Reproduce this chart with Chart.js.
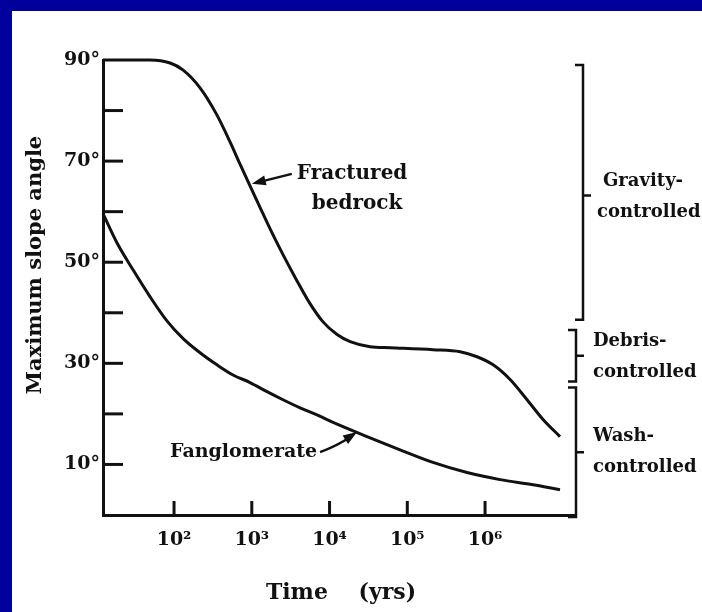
<!DOCTYPE html>
<html>
<head>
<meta charset="utf-8">
<script src="https://cdn.jsdelivr.net/npm/chart.js@4"></script>
<style>
  html, body { margin: 0; padding: 0; }
  body { width: 702px; height: 612px; background: #00009c; position: relative; overflow: hidden; }
  #sheet { position: absolute; left: 12px; top: 11px; right: 0; bottom: 0; background: #ffffff; }
  #wrap { position: absolute; left: 0; top: 0; width: 702px; height: 612px; }
</style>
</head>
<body>
<div id="sheet"></div>
<div id="wrap"><canvas id="c" width="702" height="612"></canvas></div>
<script>
// Time axis (years, log scale) and slope-angle axis (degrees)
const timeTicks = [1e2, 1e3, 1e4, 1e5, 1e6];
const angleLabels = [10, 30, 50, 70, 90];

// Fractured bedrock: maximum slope angle vs. time
const timeBedrock  = [12.2, 49, 89, 131, 216, 357, 525, 706, 949, 1280, 1720, 2520, 3820, 5610, 8240, 12500, 18400, 33200, 60000, 214000, 477000, 788000, 1270000, 2100000, 3470000, 5570000, 9200000];
const angleBedrock = [90, 90, 89.4, 88.0, 84.5, 79.1, 73.8, 69.4, 65.1, 60.8, 56.6, 51.5, 46.3, 41.8, 38.2, 35.7, 34.3, 33.3, 33.1, 32.7, 32.3, 31.3, 29.7, 26.8, 22.8, 18.9, 15.5];

// Fanglomerate: maximum slope angle vs. time
const timeFang  = [12.2, 18.5, 29.7, 49, 81, 131, 216, 357, 574, 949, 1570, 2520, 4180, 6900, 11100, 30300, 80700, 214000, 586000, 1560000, 4140000, 9200000];
const angleFang = [59.6, 53.8, 48.5, 43.2, 38.4, 34.9, 32.1, 29.7, 27.7, 26.2, 24.4, 22.8, 21.2, 19.8, 18.3, 15.5, 12.9, 10.4, 8.4, 7.0, 6.0, 5.0];

// Slope regimes shown as brackets on the right (angle ranges, degrees)
const regimeNames  = [['Gravity-', 'controlled'], ['Debris-', 'controlled'], ['Wash-', 'controlled']];
const regimeTop    = [89, 36.6, 25.2];
const regimeBottom = [39, 26.8, 0];

// Curve call-outs: label lines and the point on the curve each arrow touches
const calloutText  = [['Fractured', 'bedrock'], ['Fanglomerate']];
const calloutTime  = [1000, 22600];
const calloutAngle = [65.5, 16.4];

const X_MIN = 12.2;
const X_MAX = 1.435e7;
const INK = '#111111';
const FONT = '"DejaVu Serif", "Liberation Serif", serif';

const SUP = { '0': '\u2070', '1': '\u00b9', '2': '\u00b2', '3': '\u00b3', '4': '\u2074', '5': '\u2075', '6': '\u2076', '7': '\u2077', '8': '\u2078', '9': '\u2079' };
function powerLabel(v) {
  const e = Math.round(Math.log10(v));
  return '10' + String(e).split('').map(d => SUP[d]).join('');
}

function pairs(xs, ys) { return xs.map((x, i) => ({ x: x, y: ys[i] })); }

function setFont(ctx, size) { ctx.font = 'bold ' + size + 'px ' + FONT; }

function arrowHead(ctx, fx, fy, tx, ty, len, half) {
  const a = Math.atan2(ty - fy, tx - fx);
  ctx.beginPath();
  ctx.moveTo(tx, ty);
  ctx.lineTo(tx - len * Math.cos(a) + half * Math.sin(a), ty - len * Math.sin(a) - half * Math.cos(a));
  ctx.lineTo(tx - len * Math.cos(a) - half * Math.sin(a), ty - len * Math.sin(a) + half * Math.cos(a));
  ctx.closePath();
  ctx.fill();
}

const decor = {
  id: 'decor',
  afterDraw(chart) {
    const ctx = chart.ctx;
    const xs = chart.scales.x, ys = chart.scales.y;
    const area = chart.chartArea;
    ctx.save();
    ctx.strokeStyle = INK;
    ctx.fillStyle = INK;
    ctx.lineCap = 'butt';

    // inward tick marks on both axes
    ctx.lineWidth = 3;
    ys.ticks.forEach(t => {
      if (t.value <= ys.min || t.value >= ys.max) return;
      const y = ys.getPixelForValue(t.value);
      ctx.beginPath(); ctx.moveTo(area.left, y); ctx.lineTo(area.left + 20, y); ctx.stroke();
    });
    xs.ticks.forEach(t => {
      const x = xs.getPixelForValue(t.value);
      ctx.beginPath(); ctx.moveTo(x, area.bottom); ctx.lineTo(x, area.bottom - 14); ctx.stroke();
    });

    // regime brackets
    ctx.lineWidth = 2.5;
    setFont(ctx, 18);
    ctx.textBaseline = 'middle';
    ctx.textAlign = 'left';
    regimeNames.forEach((lines, i) => {
      const bx = area.right + (i === 0 ? 8 : 1);
      const yt = ys.getPixelForValue(regimeTop[i]);
      const yb = ys.getPixelForValue(regimeBottom[i]) + 2;
      const ym = (yt + yb) / 2 + (i === 0 ? 3 : 0);
      ctx.beginPath();
      ctx.moveTo(bx - 8, yt); ctx.lineTo(bx, yt); ctx.lineTo(bx, yb); ctx.lineTo(bx - 8, yb);
      ctx.moveTo(bx, ym); ctx.lineTo(bx + 8, ym);
      ctx.stroke();
      const tx = bx + (i === 0 ? 20 : 17);
      const dy = i === 2 ? -2 : 0;
      ctx.fillText(lines[0], tx, ym - 14 + dy);
      ctx.fillText(lines[1], tx - (i === 0 ? 6 : 0), ym + 17 + dy);
    });

    // call-outs with arrows
    ctx.lineWidth = 2.5;
    // Fractured bedrock
    {
      setFont(ctx, 20);
      const hx = xs.getPixelForValue(calloutTime[0]), hy = ys.getPixelForValue(calloutAngle[0]);
      const sx = hx + 40, sy = hy - 10;
      ctx.beginPath(); ctx.moveTo(sx, sy); ctx.lineTo(hx + 8, hy - 2); ctx.stroke();
      arrowHead(ctx, sx, sy, hx, hy, 14, 5);
      ctx.textAlign = 'left';
      ctx.fillText(calloutText[0][0], hx + 45, hy - 10);
      ctx.fillText(calloutText[0][1], hx + 60, hy + 20);
    }
    // Fanglomerate
    {
      setFont(ctx, 19);
      const hx = xs.getPixelForValue(calloutTime[1]), hy = ys.getPixelForValue(calloutAngle[1]);
      const sx = hx - 37, sy = hy + 20;
      ctx.beginPath(); ctx.moveTo(sx, sy); ctx.quadraticCurveTo(hx - 20, hy + 14, hx - 7, hy + 5); ctx.stroke();
      arrowHead(ctx, hx - 20, hy + 13, hx, hy, 14, 5);
      ctx.textAlign = 'right';
      ctx.fillText(calloutText[1][0], sx - 3, sy);
    }

    // axis titles
    ctx.textAlign = 'center';
    ctx.textBaseline = 'middle';
    setFont(ctx, 21);
    ctx.save();
    ctx.translate(36, 265);
    ctx.rotate(-Math.PI / 2);
    ctx.fillText('Maximum slope angle', 0, 0);
    ctx.restore();
    setFont(ctx, 22);
    ctx.fillText('Time    (yrs)', 341, 593);

    ctx.restore();
  }
};

new Chart(document.getElementById('c').getContext('2d'), {
  type: 'line',
  data: {
    datasets: [
      { label: 'Fractured bedrock', data: pairs(timeBedrock, angleBedrock) },
      { label: 'Fanglomerate', data: pairs(timeFang, angleFang) }
    ]
  },
  options: {
    responsive: false,
    animation: false,
    devicePixelRatio: 1,
    events: [],
    layout: { padding: { top: 60, right: 127, bottom: 0, left: 0 } },
    elements: {
      line: { borderColor: INK, borderWidth: 3, tension: 0.4, cubicInterpolationMode: 'monotone', fill: false },
      point: { radius: 0 }
    },
    datasets: { line: { clip: false } },
    plugins: { legend: { display: false }, tooltip: { enabled: false } },
    scales: {
      x: {
        type: 'logarithmic',
        min: X_MIN,
        max: X_MAX,
        grid: { display: false, drawTicks: false },
        border: { display: true, color: INK, width: 3 },
        afterBuildTicks: s => { s.ticks = timeTicks.map(v => ({ value: v })); },
        afterFit: s => { s.height = 97; },
        ticks: {
          autoSkip: false, maxRotation: 0, padding: 14, color: INK,
          font: { family: FONT, size: 19, weight: 'bold' },
          callback: v => powerLabel(v)
        }
      },
      y: {
        min: 0,
        max: 90,
        grid: { display: false, drawTicks: false },
        border: { display: true, color: INK, width: 3 },
        afterFit: s => { s.width = 103; },
        ticks: {
          stepSize: 10, padding: 3, color: INK,
          font: { family: FONT, size: 19, weight: 'bold' },
          callback: v => angleLabels.includes(v) ? v + '\u00b0' : ''
        }
      }
    }
  },
  plugins: [decor]
});
</script>
</body>
</html>
